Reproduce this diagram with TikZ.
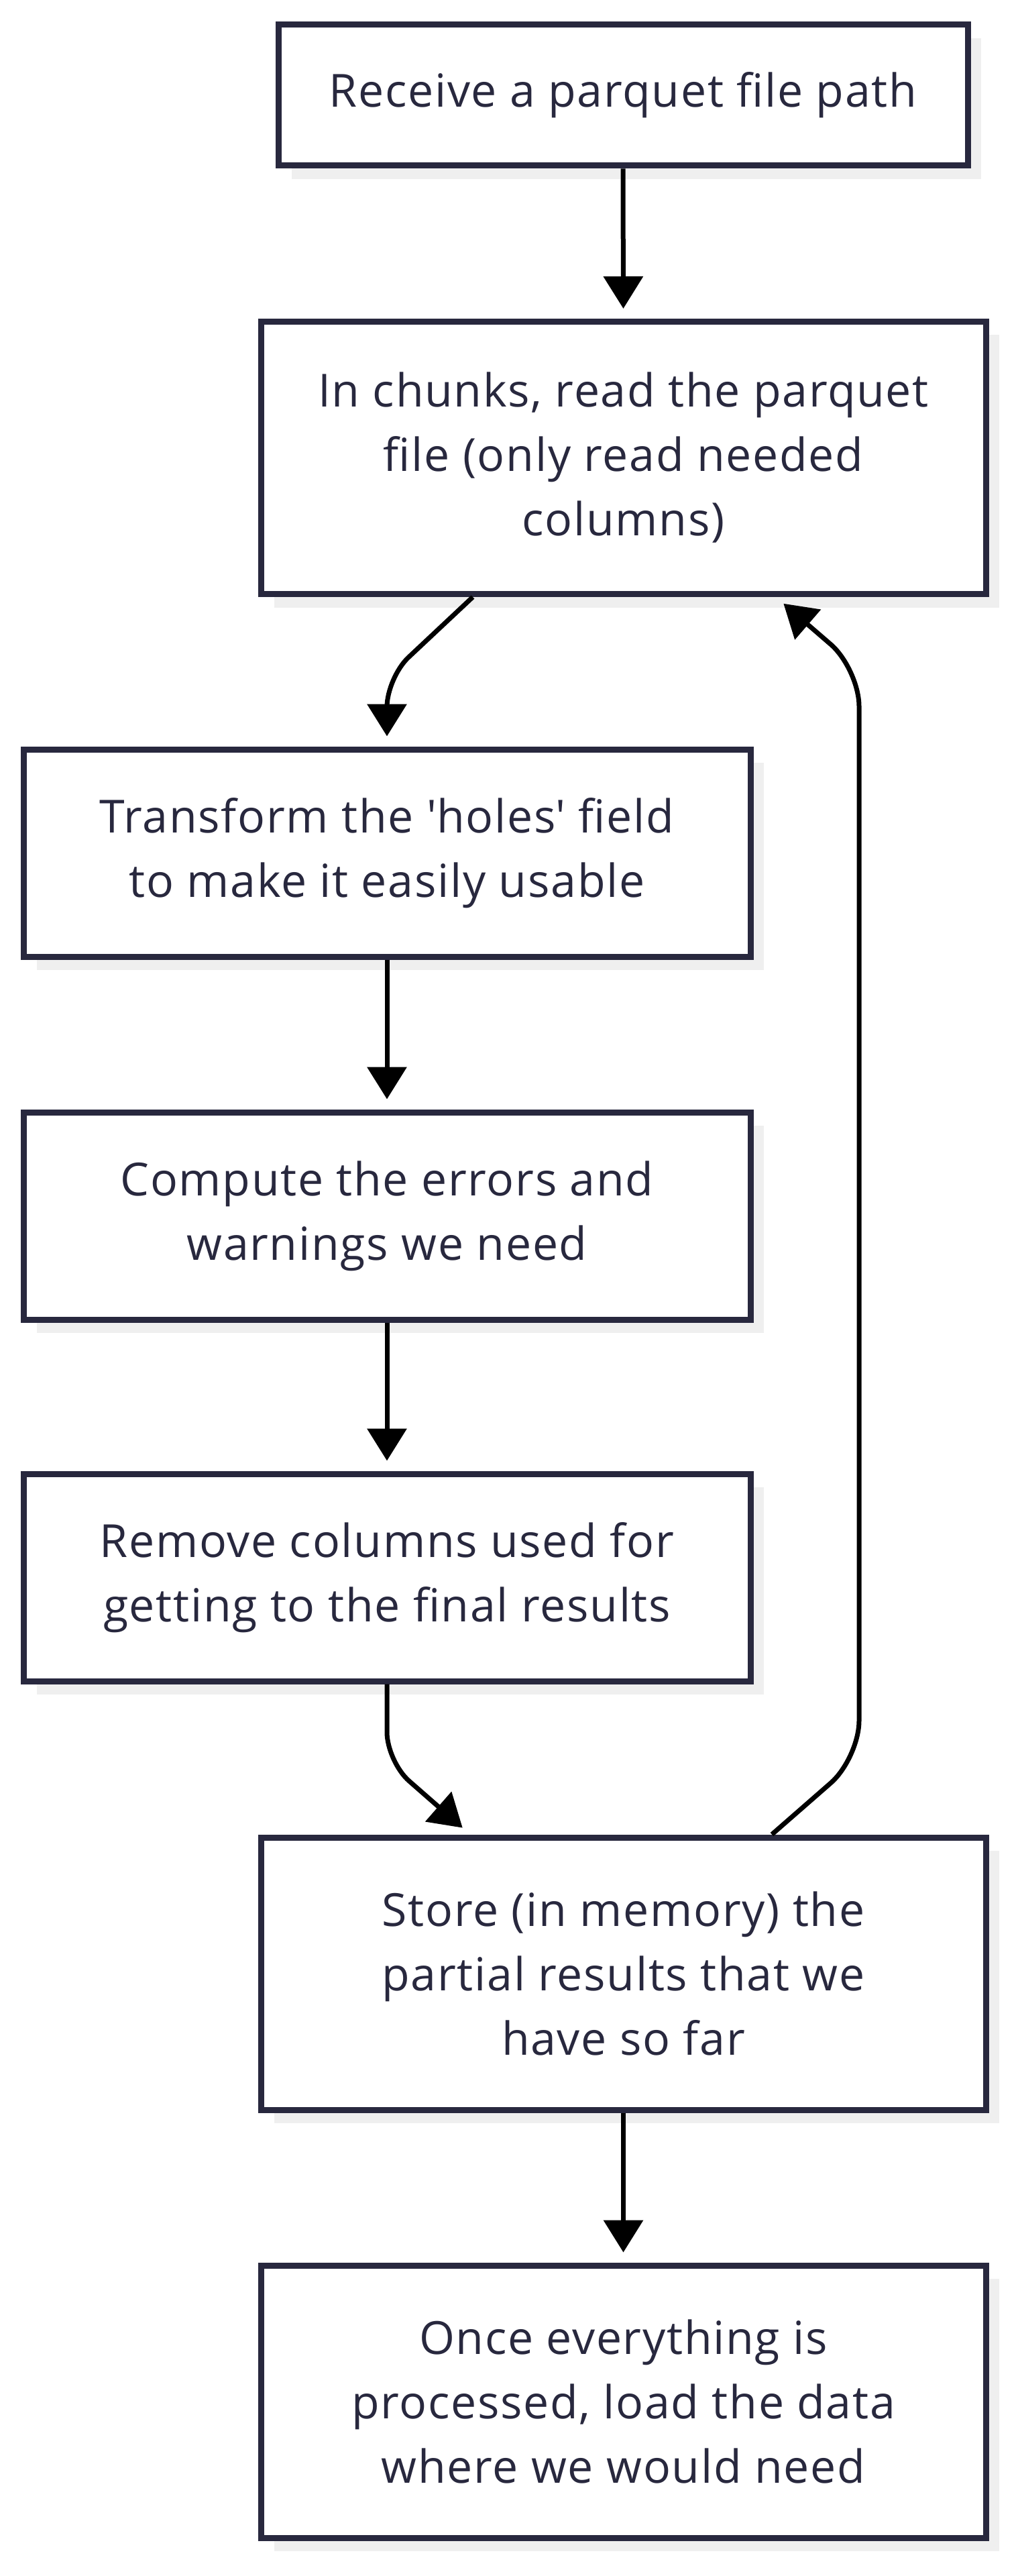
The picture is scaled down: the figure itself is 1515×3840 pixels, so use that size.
\documentclass[tikz,border=0pt]{standalone}
\usepackage{fontspec}
\setmainfont{Open Sans}[LetterSpace=2.5]
\usetikzlibrary{arrows.meta,shadows,positioning}
\definecolor{boxline}{RGB}{40,40,62}
\definecolor{shadowgray}{RGB}{239,239,239}

\tikzset{
  stepbox/.style={draw=boxline, line width=2.25pt, fill=white, text=boxline,
    align=center, inner sep=0pt, font=\fontsize{17}{24}\selectfont,
    drop shadow={shadow xshift=5pt, shadow yshift=-5pt, fill=shadowgray, opacity=1}},
  narrowbox/.style={stepbox, minimum width=271pt, minimum height=77.25pt},
  widebox/.style={stepbox, minimum width=270.25pt, minimum height=101.5pt},
  flow/.style={-{Triangle[length=12pt,width=14.5pt]}, line width=1.75pt, shorten >=3.75pt},
}

\begin{document}
\begin{tikzpicture}[x=0.25pt, y=-0.25pt]
  \useasboundingbox (0,0) rectangle (1515,3840);

  % steps
  \node[stepbox, minimum width=257pt, minimum height=52.5pt] (receive) at (929,142)
    {Receive a parquet file path};
  \node[widebox] (read) at (929.5,682.5)
    {In chunks, read the parquet\\file (only read needed\\columns)};
  \node[narrowbox] (transform) at (577,1271.5)
    {Transform the \textquotesingle holes\textquotesingle{} field\\to make it easily usable};
  \node[narrowbox] (compute) at (577,1812.5)
    {Compute the errors and\\warnings we need};
  \node[narrowbox] (remove) at (577,2351.5)
    {Remove columns used for\\getting to the final results};
  \node[widebox] (store) at (929.5,2942)
    {Store (in memory) the\\partial results that we\\have so far};
  \node[widebox] (load) at (929.5,3580)
    {Once everything is\\processed, load the data\\where we would need};

  % connectors
  \draw[flow] (receive.south) -- (read.north);
  \draw[flow, rounded corners=11pt] (705,0 |- read.south) -- (577,1010) -- (transform.north);
  \draw[flow] (transform.south) -- (compute.north);
  \draw[flow] (compute.south) -- (remove.north);
  \draw[flow, rounded corners=11pt] (remove.south) -- (577,2626) -- (701,0 |- store.north);
  % loop back for the next chunk
  \draw[flow, rounded corners=14pt] (1151,0 |- store.north) -- (1281,2621)
    -- (1281,997) -- (1157,0 |- read.south);
  \draw[flow] (store.south) -- (load.north);
\end{tikzpicture}
\end{document}
